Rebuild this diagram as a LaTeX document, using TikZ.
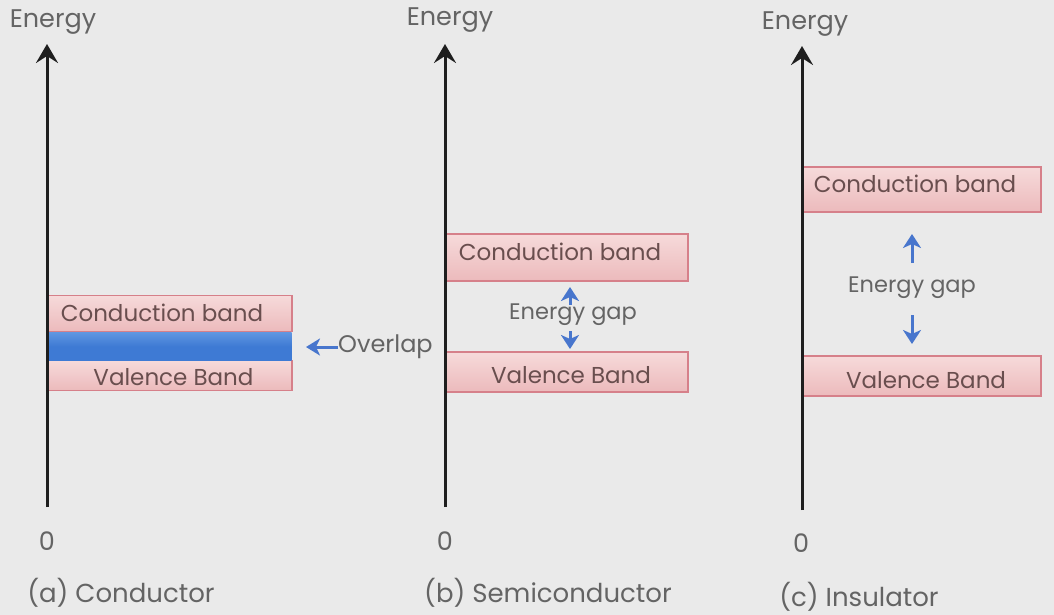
\documentclass[tikz,border=0pt]{standalone}
\usepackage{fontspec}
\setmainfont{Poppins}
\usetikzlibrary{arrows.meta}
\definecolor{bg}{RGB}{234,234,234}
\definecolor{txtgray}{RGB}{100,100,100}
\definecolor{bandtxt}{RGB}{105,78,78}
\definecolor{bandtop}{RGB}{246,218,218}
\definecolor{bandbot}{RGB}{236,186,188}
\definecolor{bandborder}{RGB}{214,128,138}
\definecolor{overlaptop}{RGB}{95,150,225}
\definecolor{overlapblue}{RGB}{62,122,212}
\definecolor{arrowblue}{RGB}{72,118,205}
\definecolor{axiscol}{RGB}{30,30,30}
\tikzset{
  lbl/.style={text=txtgray, font=\fontsize{25.5}{28}\selectfont, inner sep=0pt},
  captext/.style={text=txtgray, font=\fontsize{26}{29}\selectfont, inner sep=0pt},
  bandtext/.style={text=bandtxt, font=\fontsize{23}{26}\selectfont, inner sep=0pt},
  gaptext/.style={text=txtgray, font=\fontsize{22.5}{26}\selectfont, inner sep=0pt},
  band/.style={draw=bandborder, line width=1.8pt, top color=bandtop, bottom color=bandbot, inner sep=0pt},
  blueband/.style={top color=overlaptop, bottom color=overlapblue, middle color=overlapblue, draw=none, inner sep=0pt},
  axis/.style={draw=axiscol, line width=3pt, -{Stealth[length=19pt,width=22pt,inset=7pt]}},
  gaparrow/.style={draw=arrowblue, line width=3pt, -{Stealth[length=14pt,width=18pt,inset=4pt]}},
}
\begin{document}
\begin{tikzpicture}[x=1pt,y=-1pt]
\useasboundingbox[fill=bg] (0,0) rectangle (1054,615);
% ---------- panel a ----------
\coordinate (a0) at (47,507);
\coordinate (a1) at (47,44);
\node[band, minimum width=245, minimum height=36] (acb) at (169.5,313.5) {};
\node[band, minimum width=245, minimum height=30] (avb) at (169.5,375.5) {};
\node[blueband, minimum width=244, minimum height=28] (aov) at (169.5,346.5) {};
\node[bandtext] (acbt) at (162,313) {Conduction band};
\node[bandtext] (avbt) at (173.5,377) {Valence Band};
\draw[axis] (a0) -- (a1);
\node[lbl] (aE) at (53,22) {Energy};
\node[lbl] (a00) at (47,541) {0};
\node[captext] (acap) at (121,593) {(a) Conductor};
\node[gaptext, anchor=west, font=\fontsize{24}{27}\selectfont] (ovl) at (338,347) {Overlap};
\coordinate (ovtip) at (306,347);
\draw[draw=arrowblue, line width=3pt, -{Stealth[length=14pt,width=17pt,inset=4pt]}] (ovl.west) -- (ovtip);
% ---------- panel b ----------
\coordinate (b0) at (445,507);
\coordinate (b1) at (445,44);
\node[band, minimum width=243, minimum height=47] (bcb) at (566.5,257.5) {};
\node[band, minimum width=243, minimum height=40] (bvb) at (566.5,372) {};
\node[bandtext] (bcbt) at (560,252) {Conduction band};
\node[bandtext] (bvbt) at (571,375) {Valence Band};
\draw[axis] (b0) -- (b1);
\node[lbl] (bE) at (450,20) {Energy};
\node[lbl] (b00) at (445,541) {0};
\node[captext] (bcap) at (548,593) {(b) Semiconductor};
\node[gaptext] (bgap) at (573,315) {Energy gap};
\coordinate (bu0) at (570,305);
\coordinate (bu1) at (570,287);
\coordinate (bd0) at (570,331);
\coordinate (bd1) at (570,349);
\draw[gaparrow] (bu0) -- (bu1);
\draw[gaparrow] (bd0) -- (bd1);
% ---------- panel c ----------
\coordinate (c0) at (802,510);
\coordinate (c1) at (802,46);
\node[band, minimum width=239, minimum height=45] (ccb) at (921.5,189.5) {};
\node[band, minimum width=239, minimum height=40] (cvb) at (921.5,376) {};
\node[bandtext] (ccbt) at (915,184) {Conduction band};
\node[bandtext] (cvbt) at (926,380) {Valence Band};
\draw[axis] (c0) -- (c1);
\node[lbl] (cE) at (805,24) {Energy};
\node[lbl] (c00) at (801,543) {0};
\node[captext] (ccap) at (859,597) {(c) Insulator};
\node[gaptext] (cgap) at (912,288) {Energy gap};
\coordinate (cu0) at (912,263);
\coordinate (cu1) at (912,234);
\coordinate (cd0) at (912,315);
\coordinate (cd1) at (912,344);
\draw[gaparrow] (cu0) -- (cu1);
\draw[gaparrow] (cd0) -- (cd1);
\end{tikzpicture}
\end{document}
